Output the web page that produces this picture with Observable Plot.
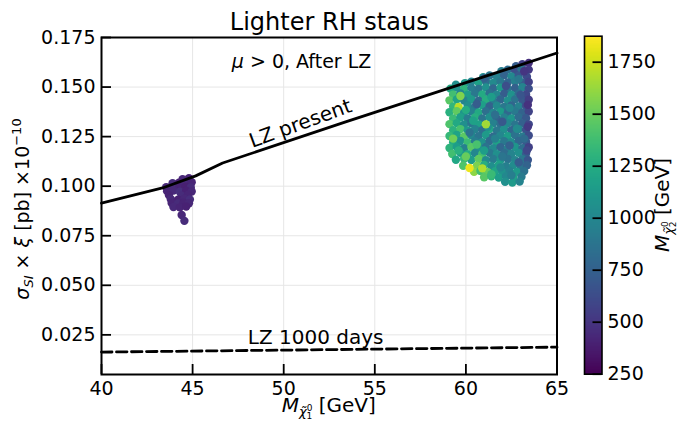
<!DOCTYPE html>
<html>
<head>
<meta charset="utf-8">
<script src="https://cdn.jsdelivr.net/npm/d3@7"></script>
<script src="https://cdn.jsdelivr.net/npm/@observablehq/plot@0.6"></script>
<style>
  html, body { margin: 0; padding: 0; background: white; }
  #wrap { position: relative; width: 678px; height: 423px; overflow: hidden; background: white; }
  #wrap svg { position: absolute; top: 0; }
</style>
</head>
<body>
<div id="wrap"></div>
<script>
// ---------- data ----------
const xTicks = [40, 45, 50, 55, 60, 65];
const yTicks = [0.025, 0.05, 0.075, 0.1, 0.125, 0.15, 0.175];
const cTicks = [250, 500, 750, 1000, 1250, 1500, 1750];

// LZ present limit (solid)
const lzPresentX = [40, 43.35, 45.17, 46.65, 53.4, 65];
const lzPresentY = [0.0914, 0.0991, 0.1052, 0.1117, 0.1324, 0.1672];
// LZ 1000 days projection (dashed)
const lz1000X = [40, 65];
const lz1000Y = [0.0163, 0.0188];

// scan points: [M_chi1 (GeV), sigma_SI*xi (pb e-10), M_chi2 (GeV)]
const lowMassPoints = [
  [44.45,0.1035,430],[44.8,0.1040,410],
  [43.9,0.1015,450],[44.25,0.1018,400],[44.6,0.1012,440],[44.95,0.1020,420],
  [43.55,0.0995,430],[43.9,0.0998,460],[44.25,0.0992,410],[44.6,0.0997,390],[44.9,0.0993,450],
  [43.6,0.0975,420],[43.95,0.0978,440],[44.3,0.0972,470],[44.65,0.0977,400],[44.95,0.0973,430],
  [43.7,0.0955,410],[44.4,0.0952,450],[44.75,0.0957,420],
  [43.8,0.0935,440],[44.2,0.0932,400],[44.55,0.0937,430],[44.85,0.0933,460],
  [43.85,0.0915,420],[44.2,0.0913,450],[44.5,0.0917,410],[44.8,0.0914,430],
  [43.95,0.0895,440],[44.3,0.0893,420],[44.65,0.0897,400],
  [44.4,0.0855,430],[44.55,0.0825,450]
];

const highMassPoints = [
  [62.75,0.1605,720],[63.1,0.1615,560],[63.45,0.1622,470],
  [61.95,0.1580,930],[62.3,0.1588,820],[62.7,0.1582,640],[63.05,0.1590,870],[63.45,0.1588,520],
  [60.95,0.1550,1050],[61.3,0.1558,880],[61.7,0.1552,960],[62.1,0.1560,760],[62.5,0.1553,1010],[62.9,0.1557,690],[63.35,0.1552,610],
  [59.95,0.1520,1120],[60.3,0.1527,980],[60.7,0.1522,1180],[61.1,0.1528,830],[61.5,0.1521,1020],[61.9,0.1527,900],[62.3,0.1523,780],[62.7,0.1529,950],[63.1,0.1522,720],[63.45,0.1526,560],
  [59.45,0.1512,1050],
  [59.15,0.1492,1230],[59.5,0.1497,1090],[59.9,0.1490,1310],[60.3,0.1496,940],[60.7,0.1491,870],[61.1,0.1498,1060],[61.5,0.1493,790],[61.9,0.1497,1130],[62.3,0.1490,880],[62.7,0.1495,740],[63.1,0.1499,980],[63.45,0.1492,640],
  [59.3,0.1462,1380],[59.7,0.1468,1010],[60.1,0.1461,1150],[60.5,0.1467,900],[60.9,0.1463,1240],[61.3,0.1469,850],[61.7,0.1462,1000],[62.1,0.1467,720],[62.5,0.1461,1080],[62.9,0.1468,820],[63.3,0.1463,600],
  [59.1,0.1433,1450],[59.5,0.1438,1200],[59.9,0.1432,980],[60.3,0.1437,1120],[60.7,0.1431,800],[61.1,0.1436,1260],[61.5,0.1430,930],[61.9,0.1437,780],[62.3,0.1432,1050],[62.7,0.1438,870],[63.1,0.1431,700],[63.45,0.1436,540],
  [59.3,0.1402,1320],[59.6,0.1400,1700],[60.1,0.1407,1040],[60.5,0.1401,890],[60.9,0.1408,1160],[61.3,0.1403,760],[61.7,0.1406,1020],[62.1,0.1400,900],[62.5,0.1407,780],[62.9,0.1402,960],[63.3,0.1405,650],
  [59.1,0.1373,1280],[59.5,0.1378,1480],[59.9,0.1371,1100],[60.3,0.1377,960],[60.7,0.1372,1230],[61.1,0.1378,840],[61.5,0.1371,990],[61.9,0.1376,1140],[62.3,0.1370,800],[62.7,0.1377,910],[63.1,0.1372,760],[63.45,0.1377,580],
  [59.3,0.1342,1350],[59.7,0.1348,1160],[60.1,0.1341,930],[60.5,0.1347,1270],[60.9,0.1342,880],[61.3,0.1348,1050],[61.7,0.1341,760],[62.1,0.1347,970],[62.5,0.1342,1100],[62.9,0.1348,820],[63.3,0.1343,690],
  [59.1,0.1313,1420],[59.5,0.1318,1230],[59.9,0.1311,1050],[60.3,0.1317,890],[60.7,0.1312,1180],[61.1,0.1310,1620],[61.5,0.1317,960],[61.9,0.1312,840],[62.3,0.1318,1000],[62.7,0.1311,880],[63.1,0.1317,740],[63.45,0.1312,600],
  [59.3,0.1282,1290],[59.7,0.1288,1400],[60.1,0.1281,1120],[60.5,0.1287,970],[60.9,0.1282,840],[61.3,0.1288,1210],[61.7,0.1281,900],[62.1,0.1287,1060],[62.5,0.1282,780],[62.9,0.1288,950],[63.3,0.1283,660],
  [59.1,0.1253,1340],[59.5,0.1258,1190],[59.9,0.1251,1460],[60.3,0.1257,1010],[60.7,0.1252,880],[61.1,0.1258,1130],[61.5,0.1251,820],[61.9,0.1256,1000],[62.3,0.1252,1150],[62.7,0.1258,860],[63.1,0.1251,920],[63.45,0.1256,620],
  [59.3,0.1222,1250],[59.7,0.1228,1080],[60.1,0.1221,1360],[60.5,0.1227,940],[60.9,0.1222,1070],[61.3,0.1228,820],[61.7,0.1221,1180],[62.1,0.1227,900],[62.5,0.1222,1020],[62.9,0.1228,790],[63.3,0.1223,700],
  [59.1,0.1193,1300],[59.5,0.1198,1150],[59.9,0.1191,960],[60.3,0.1197,1450],[60.7,0.1192,1080],[61.1,0.1198,870],[61.5,0.1191,1020],[61.9,0.1196,780],[62.3,0.1192,940],[62.7,0.1198,1100],[63.1,0.1191,830],[63.45,0.1196,560],
  [59.25,0.1162,1380],[59.7,0.1168,1120],[60.1,0.1161,1250],[60.5,0.1167,1000],[60.9,0.1162,1380],[61.3,0.1168,900],[61.7,0.1161,1060],[62.1,0.1167,820],[62.5,0.1162,980],[62.9,0.1168,1050],[63.3,0.1163,730],
  [59.45,0.1133,1220],[59.9,0.1138,1350],[60.3,0.1132,1150],[60.7,0.1137,1480],[61.1,0.1131,1030],[61.5,0.1137,920],[61.9,0.1132,1100],[62.3,0.1137,860],[62.7,0.1131,990],[63.1,0.1136,900],[63.4,0.1132,680],
  [59.85,0.1103,1420],[60.6,0.1102,1550],[61.0,0.1107,1260],[61.4,0.1101,1050],[61.8,0.1107,1180],[62.2,0.1101,940],[62.6,0.1106,1030],[63.0,0.1101,880],[63.35,0.1106,760],
  [60.45,0.1072,1600],[60.8,0.1077,1380],[61.2,0.1071,1500],[61.6,0.1076,1200],[62.0,0.1071,1080],[62.4,0.1077,960],[62.8,0.1072,1120],[63.2,0.1076,860],
  [61.0,0.1045,1450],[61.4,0.1050,1320],[61.8,0.1044,1150],[62.2,0.1049,1010],[62.6,0.1044,1180],[63.05,0.1048,920],
  [62.15,0.1022,1060],[62.55,0.1018,1130],[62.95,0.1023,980],
  [59.7,0.1455,1560],[60.0,0.1385,1250],[60.6,0.1415,720],[61.4,0.1450,1150],[62.2,0.1505,640],[62.9,0.1540,900],
  [61.0,0.1545,760],[60.4,0.1330,1180],[61.6,0.1360,840],[62.4,0.1395,1000],[63.0,0.1460,680],[59.3,0.1240,1520],
  [60.2,0.1270,860],[61.2,0.1300,1050],[62.0,0.1325,700],[62.8,0.1290,1020],[59.6,0.1180,1280],[60.6,0.1210,1400],
  [61.6,0.1240,960],[62.4,0.1205,750],[63.2,0.1240,820],[60.0,0.1150,1500],[61.0,0.1180,1150],[62.0,0.1150,880],
  [62.9,0.1120,720],[60.9,0.1090,1680],[61.4,0.1060,1350],[61.9,0.1095,1000],[62.5,0.1055,940],[63.4,0.1410,480],
  [63.4,0.1300,520],[63.35,0.1180,600],[63.2,0.1580,500],
  [60.2,0.1092,1830],[61.1,0.1312,1650]
];

const titleText = "Lighter RH staus";
const noteText = "μ > 0, After LZ";
const lzPresentLabel = "LZ present";
const lz1000Label = "LZ 1000 days";

// ---------- layout ----------
const FONT = "DejaVu Sans";
const W = 578, H = 423;
const mt = 37, mb = 49, ml = 101, mr = 21.5;
const plotW = W - ml - mr, plotH = H - mt - mb;
const colorDomain = [250, 1875];

const lzPresent = lzPresentX.map((x, i) => ({x, y: lzPresentY[i]}));
const lz1000 = lz1000X.map((x, i) => ({x, y: lz1000Y[i]}));
const pts = d => ({x: d[0], y: d[1], c: d[2]});

const main = Plot.plot({
  width: W, height: H,
  marginTop: mt, marginBottom: mb, marginLeft: ml, marginRight: mr,
  style: {fontFamily: FONT, fontSize: "19px", color: "black", background: "white"},
  x: {domain: [40, 65]},
  y: {domain: [0.005, 0.175]},
  color: {type: "linear", scheme: "viridis", domain: colorDomain},
  marks: [
    Plot.gridX(xTicks.slice(1, -1), {stroke: "#e6e6e6", strokeOpacity: 1, strokeWidth: 1}),
    Plot.gridY(yTicks.slice(0, -1), {stroke: "#e6e6e6", strokeOpacity: 1, strokeWidth: 1}),
    Plot.dot(lowMassPoints.map(pts), {x: "x", y: "y", fill: "c", r: 4.2}),
    Plot.dot(highMassPoints.map(pts), {x: "x", y: "y", fill: "c", r: 4.2}),
    Plot.line(lzPresent, {x: "x", y: "y", stroke: "black", strokeWidth: 2.8}),
    Plot.line(lz1000, {x: "x", y: "y", stroke: "black", strokeWidth: 2.8, strokeDasharray: "10.5,4.5"}),
    Plot.text([titleText], {frameAnchor: "top", dy: -15, fontSize: 24, lineAnchor: "middle", fill: "black"}),
    Plot.text([noteText], {x: () => 50.98, y: () => 0.1629, fontSize: 19, lineAnchor: "middle", fill: "black"}),
    Plot.text([lzPresentLabel], {x: () => 50.92, y: () => 0.1316, rotate: -20, fontSize: 20, lineAnchor: "middle", fill: "black"}),
    Plot.text([lz1000Label], {x: () => 51.75, y: () => 0.0237, fontSize: 20, lineAnchor: "middle", fill: "black"}),
    Plot.axisX(xTicks, {tickSize: 0, tickPadding: 7, label: null, fontSize: 19}),
    Plot.axisY(yTicks, {tickSize: 0, tickPadding: 6, label: null, fontSize: 19, tickFormat: d3.format(".3f")}),
    Plot.tickX(xTicks, {x: d => d, insetTop: plotH - 10, stroke: "black", strokeWidth: 1.8}),
    Plot.tickY(yTicks, {y: d => d, insetRight: plotW - 10, stroke: "black", strokeWidth: 1.8}),
    Plot.frame({stroke: "black", strokeWidth: 2})
  ]
});

// colorbar
const cbLeft = 578, cbW = 100;
const barX0 = 584, barX1 = 601.5;
const cb = Plot.plot({
  width: cbW, height: H,
  marginLeft: barX0 - cbLeft, marginRight: cbLeft + cbW - barX1,
  marginTop: 35.7, marginBottom: 423 - 373.7,
  style: {fontFamily: FONT, fontSize: "19px", color: "black", background: "transparent", overflow: "visible"},
  x: {domain: [0, 1], axis: null},
  y: {domain: colorDomain},
  color: {type: "linear", scheme: "viridis", domain: colorDomain},
  marks: [
    Plot.raster({x1: 0, x2: 1, y1: colorDomain[0], y2: colorDomain[1], width: 1, height: 340, fill: (x, y) => y, imageRendering: "auto"}),
    Plot.axisY(cTicks, {anchor: "right", tickSize: 0, tickPadding: 5.5, label: null, fontSize: 19, tickFormat: d3.format("d")}),
    Plot.tickY(cTicks, {y: d => d, insetLeft: (barX1 - barX0) - 9, stroke: "black", strokeWidth: 1.8}),
    Plot.frame({stroke: "black", strokeWidth: 1.6})
  ]
});

const wrap = document.getElementById("wrap");
main.style.left = "0px";
cb.style.left = cbLeft + "px";
wrap.appendChild(main);
wrap.appendChild(cb);

// rich-text labels
const ms = d3.select(main);
ms.selectAll("text").filter(function() { return this.textContent === noteText; })
  .each(function() {
    const t = d3.select(this);
    t.text(null);
    t.append("tspan").attr("font-style", "italic").text("μ");
    t.append("tspan").text(" > 0, After LZ");
  });

const yl = ms.append("text")
  .attr("transform", `translate(29,209) rotate(-90)`)
  .attr("text-anchor", "middle").attr("font-size", 19).attr("fill", "black");
yl.append("tspan").attr("font-style", "italic").text("σ");
yl.append("tspan").attr("font-style", "italic").attr("font-size", 13).attr("dy", 4).text("SI");
yl.append("tspan").attr("dy", -4).text(" × ");
yl.append("tspan").attr("font-style", "italic").text("ξ");
yl.append("tspan").text(" [pb] ×10");
yl.append("tspan").attr("font-size", 13).attr("dy", -8).text("−10");

function massLabel(sel, idx) {
  sel.append("tspan").attr("font-style", "italic").text("M");
  sel.append("tspan").attr("font-style", "italic").attr("font-size", 13).attr("dy", 4).text("χ\u0303");
  sel.append("tspan").attr("font-size", 9).attr("dy", -5).text("0");
  sel.append("tspan").attr("font-size", 9).attr("dx", -5.8).attr("dy", 8).text(idx);
  sel.append("tspan").attr("dy", -7).text(" [GeV]");
}
const xl = ms.append("text")
  .attr("x", ml + plotW / 2).attr("y", 412)
  .attr("text-anchor", "middle").attr("font-size", 20).attr("fill", "black");
massLabel(xl, "1");

const cl = d3.select(cb).append("text")
  .attr("transform", `translate(${669 - cbLeft},205) rotate(-90)`)
  .attr("text-anchor", "middle").attr("font-size", 20).attr("fill", "black");
massLabel(cl, "2");
</script>
</body>
</html>
